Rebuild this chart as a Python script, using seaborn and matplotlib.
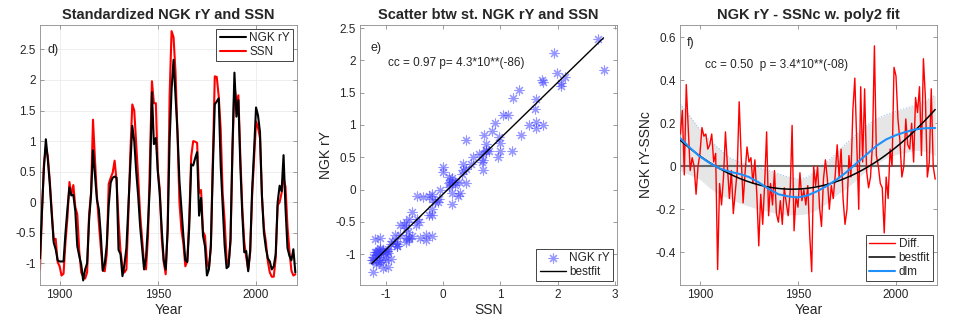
import matplotlib
matplotlib.use("Agg")
import matplotlib.pyplot as plt
import numpy as np
import seaborn as sns
from matplotlib.ticker import FuncFormatter

# standardized series, one value per year 1890..2020
years = np.arange(1890, 2021)

ssn = [-1.10, -0.20, 0.62, 0.90, 0.75, 0.35, -0.15, -0.62, -0.60, -0.98,   # 1890s
       -1.05, -1.20, -1.17, -0.65, -0.25, 0.33, 0.12, 0.28, -0.08, -0.20,  # 1900s
       -0.80, -1.15, -1.22, -1.25, -1.15, -0.20, 0.15, 1.35, 0.70, 0.10,   # 1910s
       -0.35, -0.75, -1.12, -1.13, -0.85, 0.30, 0.40, 0.48, 0.68, 0.35,    # 1920s
       -0.30, -0.80, -1.05, -1.15, -1.10, -0.20, 0.80, 1.60, 1.50, 0.95,   # 1930s
       0.40, -0.20, -0.60, -1.00, -1.10, -0.55, 0.70, 1.98, 1.62, 1.62,    # 1940s
       0.52, 0.21, -0.60, -0.98, -1.18, -0.45, 1.75, 2.80, 2.70, 2.13,     # 1950s
       1.13, 0.00, -0.45, -0.68, -1.05, -0.96, -0.25, 0.75, 1.00, 0.99,    # 1960s
       0.97, 0.15, 0.20, -0.48, -0.55, -0.97, -1.08, -0.75, 0.70, 2.06,    # 1970s
       2.05, 1.73, 1.20, 0.15, -0.30, -0.92, -1.02, -0.65, 0.85, 1.93,     # 1980s
       1.62, 1.75, 0.75, -0.10, -0.65, -0.90, -1.10, -0.82, 0.10, 0.72,    # 1990s
       1.32, 1.22, 1.05, 0.10, -0.42, -0.65, -0.97, -1.15, -1.22, -1.22,   # 2000s
       -0.92, -0.05, 0.00, 0.15, 0.40, 0.25, -0.40, -0.80, -1.12, -1.20,   # 2010s
       -1.18]

ngk = [-0.92, -0.15, 0.55, 1.03, 0.70, 0.30, -0.20, -0.66, -0.77, -0.95,
       -0.97, -0.97, -0.97, -0.50, -0.10, 0.24, 0.11, 0.12, -0.15, -0.72,
       -0.88, -1.02, -1.28, -1.10, -1.00, -0.30, 0.12, 0.85, 0.45, 0.04,
       -0.12, -0.55, -1.12, -1.00, -0.70, -0.05, 0.32, 0.40, 0.42, 0.40,
       -0.78, -0.85, -1.21, -1.02, -0.75, -0.07, 0.60, 1.25, 1.00, 0.50,
       0.10, -0.40, -0.75, -1.10, -0.90, -0.35, 0.30, 1.80, 0.95, 1.05,
       0.50, 0.12, -0.45, -0.95, -1.10, -0.45, 1.00, 1.85, 2.33, 1.75,
       1.15, 0.35, -0.10, -0.55, -0.95, -0.98, -0.40, 0.62, 0.60, 0.72,
       0.82, -0.22, 0.07, -0.55, -0.72, -1.20, -1.10, -0.70, 0.55, 1.60,
       1.65, 1.70, 0.60, -0.05, -0.70, -1.08, -1.05, -0.60, 0.90, 2.12,
       1.40, 1.67, 0.60, -0.20, -0.82, -0.80, -1.13, -0.80, 0.20, 0.85,
       1.55, 1.42, 1.15, 0.10, -0.50, -0.75, -0.92, -0.97, -1.10, -1.05,
       -0.85, 0.00, 0.27, 0.18, 0.77, -0.10, -0.75, -0.88, -0.95, -0.77,
       -1.15]

diff = [0.15, 0.26, -0.04, 0.38, 0.18, -0.02, 0.04, 0.00, -0.13, 0.00,     # 1890s
        0.06, 0.18, 0.14, 0.15, 0.08, 0.10, 0.15, 0.02, 0.06, -0.48,       # 1900s
        -0.08, -0.18, -0.05, 0.16, 0.00, -0.15, -0.02, -0.22, -0.12, -0.02,  # 1910s
        0.30, 0.05, -0.17, -0.03, 0.09, 0.02, 0.04, -0.08, 0.03, -0.13,    # 1920s
        -0.37, -0.13, -0.27, -0.08, 0.16, -0.23, -0.08, -0.18, -0.02, -0.22,  # 1930s
        -0.26, -0.16, -0.27, -0.10, -0.17, -0.23, -0.12, 0.19, -0.30, -0.14,  # 1940s
        -0.19, -0.03, -0.16, -0.11, -0.18, -0.09, -0.32, -0.49, 0.00, -0.09,  # 1950s
        0.00, -0.19, -0.28, -0.06, 0.03, -0.06, -0.20, -0.09, -0.15, -0.04,  # 1960s
        0.10, -0.05, 0.08, -0.15, -0.27, -0.20, 0.05, -0.05, 0.26, 0.41,   # 1970s
        0.10, -0.20, 0.37, 0.02, 0.36, -0.02, -0.10, -0.05, 0.10, 0.56,    # 1980s
        0.05, 0.00, -0.08, -0.10, -0.31, -0.05, -0.15, 0.08, 0.00, 0.46,   # 1990s
        0.42, 0.22, 0.12, -0.05, 0.00, 0.22, 0.10, 0.08, 0.20, 0.02,       # 2000s
        0.32, 0.25, 0.37, 0.05, 0.50, 0.32, -0.05, 0.02, 0.36, 0.00,       # 2010s
        -0.06]

# dlm smoother and its band, every 5 years
dlm_years = np.arange(1890, 2021, 5)
dlm = [0.13, 0.085, 0.045, 0.015, -0.01, -0.025, -0.035, -0.05, -0.075, -0.105,
       -0.13, -0.14, -0.145, -0.135, -0.115, -0.09, -0.06, -0.025, 0.015, 0.055,
       0.095, 0.125, 0.145, 0.16, 0.172, 0.177, 0.178]
band_hi = [0.29, 0.23, 0.17, 0.12, 0.08, 0.04, 0.02, 0.005, -0.005, -0.02,
           -0.035, -0.05, -0.06, -0.05, -0.01, 0.02, 0.065, 0.11, 0.15, 0.19,
           0.22, 0.24, 0.255, 0.27, 0.285, 0.305, 0.33]
band_lo = [-0.02, -0.04, -0.06, -0.10, -0.13, -0.15, -0.17, -0.185, -0.20, -0.21,
           -0.22, -0.225, -0.225, -0.22, -0.20, -0.17, -0.13, -0.10, -0.06, -0.02,
           0.01, 0.04, 0.055, 0.065, 0.075, 0.07, 0.05]

sns.set_style("ticks")
plt.rcParams['font.family'] = ['Liberation Sans', 'DejaVu Sans']
plt.rcParams['axes.edgecolor'] = '0.55'
plt.rcParams['axes.linewidth'] = 0.6
plt.rcParams['xtick.color'] = '0.55'
plt.rcParams['ytick.color'] = '0.55'
plt.rcParams['xtick.labelcolor'] = '0.15'
plt.rcParams['ytick.labelcolor'] = '0.15'

fmt = FuncFormatter(lambda v, p: "%g" % round(v, 2))

fig = plt.figure(figsize=(9.77, 3.26), dpi=100)
ax1 = fig.add_axes([0.0409, 0.1258, 0.2630, 0.7975])
ax2 = fig.add_axes([0.3685, 0.1258, 0.2630, 0.7975])
ax3 = fig.add_axes([0.6960, 0.1258, 0.2630, 0.7975])


def style(ax):
    ax.tick_params(direction='in', length=3, width=0.6, labelsize=8.5,
                   top=True, right=True, pad=3)
    for s in ax.spines.values():
        s.set_visible(True)
    ax.xaxis.set_major_formatter(fmt)
    ax.yaxis.set_major_formatter(fmt)


def legend(ax, loc):
    lg = ax.legend(loc=loc, fontsize=8.5, frameon=True, fancybox=False,
                   framealpha=1, edgecolor='0.15', borderpad=0.3,
                   handlelength=2.2, handletextpad=0.3, labelspacing=0.15,
                   borderaxespad=0.3)
    lg.get_frame().set_linewidth(0.6)


# panel d
sns.lineplot(x=years, y=ngk, ax=ax1, color='black', lw=1.5, label='NGK rY', zorder=3)
sns.lineplot(x=years, y=ssn, ax=ax1, color='red', lw=1.5, label='SSN', zorder=2)
ax1.set_xlim(1890, 2020.8)
ax1.set_ylim(-1.355, 2.9)
ax1.set_xticks([1900, 1950, 2000])
ax1.set_yticks(np.arange(-1, 2.6, 0.5))
ax1.grid(True, color='0.92', lw=0.6)
ax1.set_axisbelow(True)
style(ax1)
ax1.set_xlabel('Year', fontsize=10, labelpad=1)
ax1.set_ylabel('')
ax1.set_title('Standardized NGK rY and SSN', fontsize=10.5, fontweight='bold', pad=4)
ax1.text(0.031, 0.905, 'd)', transform=ax1.transAxes, fontsize=9, va='center')
legend(ax1, 'upper right')

# panel e
blue = (0.25, 0.25, 1.0)
sns.scatterplot(x=ssn, y=ngk, ax=ax2, marker=(8, 2, 0), s=42, color=blue,
                edgecolor=blue, linewidth=0.8, alpha=0.55, label='NGK rY', zorder=2)
sns.regplot(x=np.array(ssn), y=np.array(ngk), ax=ax2, scatter=False, ci=None,
            truncate=True, label='bestfit', line_kws=dict(color='black', lw=1.0, zorder=3))
ax2.set_xlim(-1.454, 3.035)
ax2.set_ylim(-1.48, 2.55)
ax2.set_xticks([-1, 0, 1, 2, 3])
ax2.set_yticks(np.arange(-1, 2.6, 0.5))
style(ax2)
ax2.set_xlabel('SSN', fontsize=10, labelpad=1)
ax2.set_ylabel('NGK rY', fontsize=10, labelpad=2)
ax2.set_title('Scatter btw st. NGK rY and SSN', fontsize=10.5, fontweight='bold', pad=4)
ax2.text(0.039, 0.91, 'e)', transform=ax2.transAxes, fontsize=9, va='center')
ax2.text(0.109, 0.852, 'cc = 0.97 p= 4.3*10**(-86)', transform=ax2.transAxes,
         fontsize=8.5, va='center')
legend(ax2, 'lower right')

# panel f
ax3.fill_between(dlm_years, band_lo, band_hi, color='0.9', lw=0, zorder=1)
ax3.plot(dlm_years, band_hi, ls=':', color=(0.6, 0.78, 0.95), lw=0.8, zorder=1)
ax3.plot(dlm_years, band_lo, ls=':', color=(0.85, 0.9, 0.95), lw=0.6, zorder=1)
ax3.axhline(0, color='0.4', lw=1.5, zorder=2)
sns.lineplot(x=years, y=diff, ax=ax3, color='red', lw=1.0, label='Diff.', zorder=3)
sns.regplot(x=years, y=np.array(diff), ax=ax3, order=2, scatter=False, ci=None,
            truncate=True, label='bestfit', line_kws=dict(color='black', lw=1.1, zorder=4))
sns.lineplot(x=dlm_years, y=dlm, ax=ax3, color=(0.12, 0.56, 0.98), lw=1.5,
             label='dlm', zorder=5)
ax3.set_xlim(1889.8, 2020.9)
ax3.set_ylim(-0.552, 0.657)
ax3.set_xticks([1900, 1950, 2000])
ax3.set_yticks([-0.4, -0.2, 0, 0.2, 0.4, 0.6])
style(ax3)
ax3.set_xlabel('Year', fontsize=10, labelpad=1)
ax3.set_ylabel('NGK rY-SSNc', fontsize=10, labelpad=2)
ax3.set_title('NGK rY - SSNc w. poly2 fit', fontsize=10.5, fontweight='bold', pad=4)
ax3.text(0.027, 0.93, 'f)', transform=ax3.transAxes, fontsize=9, va='center')
ax3.text(0.097, 0.846, 'cc = 0.50  p = 3.4*10**(-08)', transform=ax3.transAxes,
         fontsize=8.5, va='center')
legend(ax3, 'lower right')

fig.savefig('out.png', dpi=100)
